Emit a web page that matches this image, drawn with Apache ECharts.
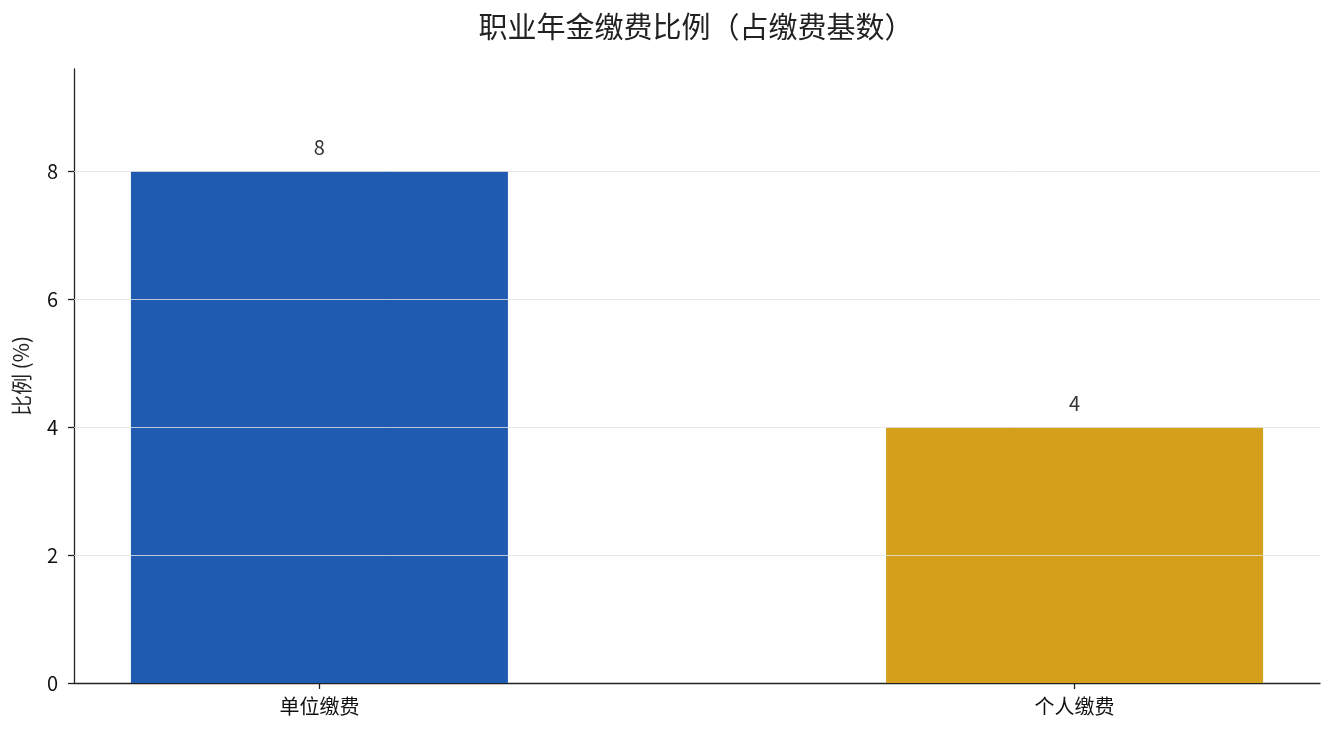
<!DOCTYPE html>
<html>
<head>
<meta charset="utf-8">
<script src="https://cdn.jsdelivr.net/npm/echarts@6/dist/echarts.min.js"></script>
<style>
html,body{margin:0;padding:0;background:#fff;}
#c{width:1335px;height:735px;}
</style>
</head>
<body>
<div id="c"></div>
<script>
const categories = ['单位缴费', '个人缴费'];
const values = [8, 4];
const barColors = ['#1f5bb0', '#d4a01c'];
const yTicks = [0, 2, 4, 6, 8];
const gridTicks = [2, 4, 6, 8];

const chart = echarts.init(document.getElementById('c'));
const font = '"Noto Sans CJK SC", "Noto Sans", sans-serif';

chart.setOption({
  backgroundColor: '#ffffff',
  animation: false,
  title: {
    text: '职业年金缴费比例（占缴费基数）',
    left: 691,
    textAlign: 'center',
    top: 7,
    textStyle: { fontFamily: font, fontSize: 29, fontWeight: 'normal', color: '#222' }
  },
  grid: { left: 74, right: 15, top: 69, bottom: 52, containLabel: false },
  xAxis: {
    type: 'value',
    min: -0.325,
    max: 1.325,
    splitLine: { show: false },
    axisLine: { show: true, onZero: false, lineStyle: { color: '#222', width: 1.3 } },
    axisTick: { show: true, customValues: [0, 1], length: 6, lineStyle: { color: '#222', width: 1.3 } },
    axisLabel: {
      customValues: [0, 1],
      formatter: v => categories[Math.round(v)] || '',
      fontFamily: font, fontSize: 20, color: '#111', margin: 13
    }
  },
  yAxis: {
    type: 'value',
    min: 0,
    max: 9.6,
    name: '比例 (%)',
    nameLocation: 'middle',
    nameGap: 42,
    nameRotate: 90,
    nameTextStyle: { fontFamily: font, fontSize: 21, color: '#222' },
    splitLine: { show: false },
    axisLine: { show: true, onZero: false, lineStyle: { color: '#222', width: 1.3 } },
    axisTick: { show: true, customValues: yTicks, length: 6, lineStyle: { color: '#222', width: 1.3 } },
    axisLabel: { customValues: yTicks, fontFamily: font, fontSize: 20, color: '#111', margin: 16 }
  },
  series: [{
    type: 'bar',
    barWidth: 377,
    data: values.map((v, i) => ({ value: [i, v], itemStyle: { color: barColors[i] } })),
    label: {
      show: true,
      position: 'top',
      distance: 14,
      formatter: p => p.value[1],
      fontFamily: font, fontSize: 20, color: '#333'
    },
    markLine: {
      silent: true,
      symbol: 'none',
      label: { show: false },
      lineStyle: { color: '#e4e4e4', width: 1, type: 'solid', opacity: 0.8 },
      data: gridTicks.map(t => ({ yAxis: t }))
    }
  }]
});
</script>
</body>
</html>
